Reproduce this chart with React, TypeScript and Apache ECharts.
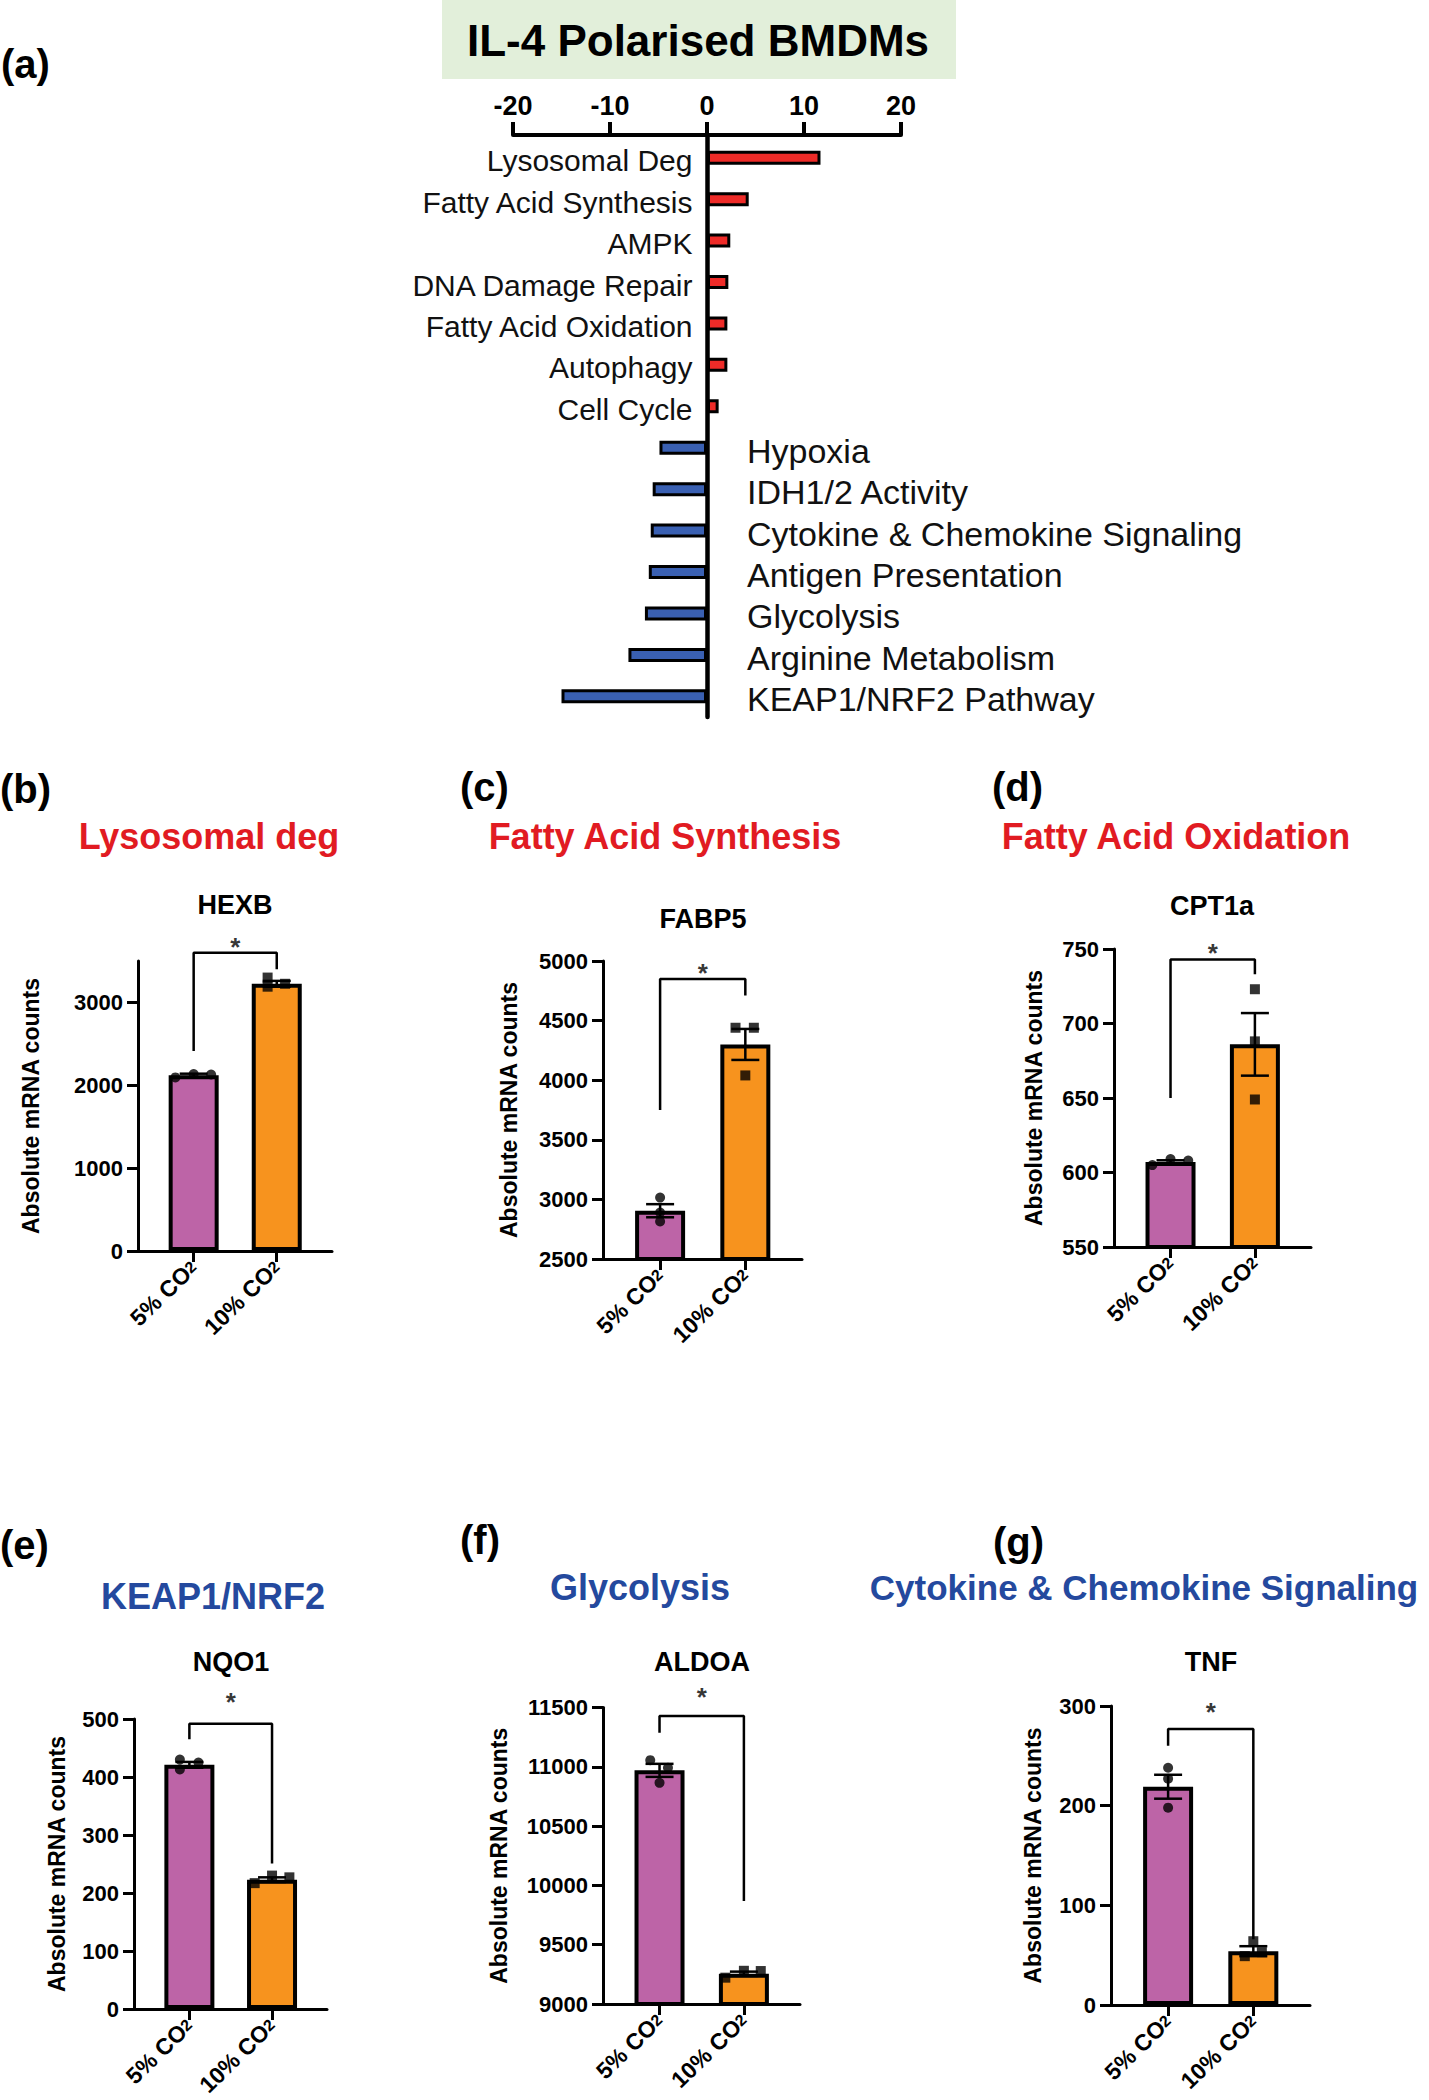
import React, { useEffect, useRef } from "react";
import * as echarts from "echarts";

const FONT = "'Liberation Sans', Arial, Helvetica, sans-serif";

// ---------- Panel (a): pathway scores ----------
const pathways = [
  "Lysosomal Deg",
  "Fatty Acid Synthesis",
  "AMPK",
  "DNA Damage Repair",
  "Fatty Acid Oxidation",
  "Autophagy",
  "Cell Cycle",
  "Hypoxia",
  "IDH1/2 Activity",
  "Cytokine & Chemokine Signaling",
  "Antigen Presentation",
  "Glycolysis",
  "Arginine Metabolism",
  "KEAP1/NRF2 Pathway",
];
const pathwayScores = [11.7, 4.3, 2.4, 2.2, 2.1, 2.1, 1.2, -4.9, -5.6, -5.8, -6.0, -6.4, -8.1, -15.0];
const scoreRange = [-20, 20];
const scoreStep = 10;

// ---------- Panels (b)-(g) ----------
const conditions = ["5% CO", "10% CO"]; // followed by subscript 2
const xTicks = [0, 1];

const panelLetters = ["(b)", "(c)", "(d)", "(e)", "(f)", "(g)"];
const pathwayTitles = [
  "Lysosomal deg",
  "Fatty Acid Synthesis",
  "Fatty Acid Oxidation",
  "KEAP1/NRF2",
  "Glycolysis",
  "Cytokine & Chemokine Signaling",
];
const genes = ["HEXB", "FABP5", "CPT1a", "NQO1", "ALDOA", "TNF"];

// HEXB
const hexbMean = [2120, 3225];
const hexbSem = [20, 35];
const hexb5 = [2095, 2135, 2130];
const hexb10 = [3300, 3190, 3225];
const hexbJit5 = [-0.22, 0, 0.21];
const hexbJit10 = [-0.11, -0.11, 0.1];
const hexbRange = [0, 3500];
const hexbTicks = [0, 1000, 2000, 3000];
const hexbBracket = [2415, 3600, 3400];

// FABP5
const fabp5Mean = [2905, 4300];
const fabp5Sem = [55, 130];
const fabp55 = [3015, 2890, 2815];
const fabp510 = [4440, 4440, 4040];
const fabp5Jit5 = [0, 0, 0];
const fabp5Jit10 = [-0.115, 0.1, 0];
const fabp5Range = [2500, 5000];
const fabp5Ticks = [2500, 3000, 3500, 4000, 4500, 5000];
const fabp5Bracket = [3750, 4850, 4710];

// CPT1a
const cpt1aMean = [607, 686];
const cpt1aSem = [1.2, 21];
const cpt1a5 = [605, 609, 608];
const cpt1a10 = [723, 688, 649];
const cpt1aJit5 = [-0.215, 0, 0.21];
const cpt1aJit10 = [0, 0, 0];
const cpt1aRange = [550, 750];
const cpt1aTicks = [550, 600, 650, 700, 750];
const cpt1aBracket = [650, 743, 733];

// NQO1
const nqo1Mean = [421, 223];
const nqo1Sem = [5, 4];
const nqo15 = [430, 413, 425];
const nqo110 = [217, 230, 227];
const nqo1Jit5 = [-0.115, -0.115, 0.11];
const nqo1Jit10 = [-0.21, 0, 0.21];
const nqo1Range = [0, 500];
const nqo1Ticks = [0, 100, 200, 300, 400, 500];
const nqo1Bracket = [465, 492, 251];

// ALDOA
const aldoaMean = [10970, 9255];
const aldoaSem = [55, 18];
const aldoa5 = [11056, 10992, 10865];
const aldoa10 = [9222, 9280, 9278];
const aldoaJit5 = [-0.11, 0.1, 0];
const aldoaJit10 = [-0.22, 0, 0.2];
const aldoaRange = [9000, 11500];
const aldoaTicks = [9000, 9500, 10000, 10500, 11000, 11500];
const aldoaBracket = [11288, 11428, 9868];

// TNF
const tnfMean = [219, 54];
const tnfSem = [12, 5];
const tnf5 = [238, 227, 198];
const tnf10 = [64, 49, 53];
const tnfJit5 = [0, 0, 0];
const tnfJit10 = [0, -0.1, 0.1];
const tnfRange = [0, 300];
const tnfTicks = [0, 100, 200, 300];
const tnfBracket = [260, 277, 66];

const panelData = [
  { mean: hexbMean, sem: hexbSem, p5: hexb5, p10: hexb10, j5: hexbJit5, j10: hexbJit10, range: hexbRange, ticks: hexbTicks, bracket: hexbBracket },
  { mean: fabp5Mean, sem: fabp5Sem, p5: fabp55, p10: fabp510, j5: fabp5Jit5, j10: fabp5Jit10, range: fabp5Range, ticks: fabp5Ticks, bracket: fabp5Bracket },
  { mean: cpt1aMean, sem: cpt1aSem, p5: cpt1a5, p10: cpt1a10, j5: cpt1aJit5, j10: cpt1aJit10, range: cpt1aRange, ticks: cpt1aTicks, bracket: cpt1aBracket },
  { mean: nqo1Mean, sem: nqo1Sem, p5: nqo15, p10: nqo110, j5: nqo1Jit5, j10: nqo1Jit10, range: nqo1Range, ticks: nqo1Ticks, bracket: nqo1Bracket },
  { mean: aldoaMean, sem: aldoaSem, p5: aldoa5, p10: aldoa10, j5: aldoaJit5, j10: aldoaJit10, range: aldoaRange, ticks: aldoaTicks, bracket: aldoaBracket },
  { mean: tnfMean, sem: tnfSem, p5: tnf5, p10: tnf10, j5: tnfJit5, j10: tnfJit10, range: tnfRange, ticks: tnfTicks, bracket: tnfBracket },
];

// ---------- layout / style ----------
const layouts = [
  { left: 138, right: 332, top: 961, bottom: 1251, nameGap: 96, starOffset: 8, letterX: 0, letterY: 789, titleX: 209, titleY: 836, titleSize: 36, geneX: 235, geneY: 905, color: "#E11B22" },
  { left: 603, right: 802, top: 961, bottom: 1259, nameGap: 83, starOffset: 7.5, letterX: 460, letterY: 787, titleX: 665, titleY: 836, titleSize: 36, geneX: 703, geneY: 919, color: "#E11B22" },
  { left: 1114, right: 1311, top: 949, bottom: 1247, nameGap: 69, starOffset: 7.5, letterX: 992, letterY: 787, titleX: 1176, titleY: 836, titleSize: 36, geneX: 1212, geneY: 906, color: "#E11B22" },
  { left: 134, right: 327, top: 1719, bottom: 2009, nameGap: 66, starOffset: -8.5, letterX: 0, letterY: 1545, titleX: 213, titleY: 1596, titleSize: 36, geneX: 231, geneY: 1662, color: "#24499E" },
  { left: 603, right: 800, top: 1707.5, bottom: 2004, nameGap: 93, starOffset: -5.5, letterX: 460, letterY: 1540, titleX: 640, titleY: 1587, titleSize: 36, geneX: 702, geneY: 1662, color: "#24499E" },
  { left: 1111, right: 1310, top: 1706, bottom: 2005, nameGap: 67, starOffset: -3.5, letterX: 993, letterY: 1542, titleX: 1144, titleY: 1587, titleSize: 35, geneX: 1211, geneY: 1662, color: "#24499E" },
];

const PURPLE = "#BD64A7";
const ORANGE = "#F7931E";
const RED = "#EE2B28";
const BLUE = "#3A60B2";

function buildOption() {
  const grid: any[] = [];
  const xAxis: any[] = [];
  const yAxis: any[] = [];
  const series: any[] = [];
  const graphic: any[] = [];

  // ----- panel (a) -----
  const catH = 41.43;
  grid.push({ left: 513, top: 137, width: 388, height: catH * pathways.length });
  xAxis.push({
    gridIndex: 0,
    type: "value",
    position: "top",
    offset: 2,
    min: scoreRange[0],
    max: scoreRange[1],
    interval: scoreStep,
    axisLine: { show: true, lineStyle: { color: "#000", width: 4 } },
    axisTick: { show: true, length: 13, lineStyle: { color: "#000", width: 4 } },
    axisLabel: { fontFamily: FONT, fontWeight: "bold", fontSize: 27, color: "#000", margin: 16 },
    splitLine: { show: false },
  });
  yAxis.push({
    gridIndex: 0,
    type: "category",
    inverse: true,
    data: pathways,
    axisLine: { show: true, onZero: true, lineStyle: { color: "#000", width: 4.5 } },
    axisTick: { show: false },
    axisLabel: { show: false },
    splitLine: { show: false },
  });
  series.push({
    type: "bar",
    xAxisIndex: 0,
    yAxisIndex: 0,
    barWidth: 14,
    z: 1,
    data: pathwayScores.map((v) => ({
      value: v,
      itemStyle: { color: v >= 0 ? RED : BLUE, borderColor: "#000", borderWidth: 3 },
      label: {
        show: true,
        position: v >= 0 ? "left" : "right",
        distance: v >= 0 ? 14.5 : 40,
        offset: [0, 3],
        fontFamily: FONT,
        fontSize: v >= 0 ? 30 : 34,
        color: "#111",
        formatter: (p: any) => p.name,
      },
    })),
  });

  graphic.push({
    type: "rect",
    shape: { x: 442, y: 0, width: 514, height: 79 },
    style: { fill: "#E2EFDA" },
    z: 0,
  });
  graphic.push({
    type: "text",
    x: 698,
    y: 40,
    style: {
      text: "IL-4 Polarised BMDMs",
      fontFamily: FONT,
      fontWeight: "bold",
      fontSize: 44,
      fill: "#000",
      align: "center",
      verticalAlign: "middle",
    },
    z: 2,
  });
  graphic.push({
    type: "text",
    x: 1,
    y: 64,
    style: { text: "(a)", fontFamily: FONT, fontWeight: "bold", fontSize: 40, fill: "#000", align: "left", verticalAlign: "middle" },
  });

  // ----- panels (b)-(g) -----
  panelData.forEach((pd, k) => {
    const lay = layouts[k];
    const gi = k + 1;
    grid.push({ left: lay.left, top: lay.top, width: lay.right - lay.left, height: lay.bottom - lay.top });
    xAxis.push({
      gridIndex: gi,
      type: "value",
      min: -0.67,
      max: 1.665,
      axisLine: { show: true, onZero: false, lineStyle: { color: "#000", width: 3 } },
      axisTick: { show: true, customValues: xTicks, length: 11, lineStyle: { color: "#000", width: 3 } },
      axisLabel: {
        show: true,
        customValues: xTicks,
        rotate: 44,
        margin: 13,
        formatter: (v: number) => `{a|${conditions[Math.round(v)]}}{s|2}`,
        rich: {
          a: { fontFamily: FONT, fontWeight: "bold", fontSize: 23, color: "#000" },
          s: { fontFamily: FONT, fontWeight: "bold", fontSize: 16, color: "#000" },
        },
      },
      splitLine: { show: false },
    });
    yAxis.push({
      gridIndex: gi,
      type: "value",
      min: pd.range[0],
      max: pd.range[1],
      name: "Absolute mRNA counts",
      nameLocation: "middle",
      nameGap: lay.nameGap,
      nameTextStyle: { fontFamily: FONT, fontWeight: "bold", fontSize: 23, color: "#000" },
      axisLine: { show: true, onZero: false, lineStyle: { color: "#000", width: 3 } },
      axisTick: { show: true, customValues: pd.ticks, length: 11, lineStyle: { color: "#000", width: 3 } },
      axisLabel: {
        show: true,
        customValues: pd.ticks,
        margin: 15,
        fontFamily: FONT,
        fontWeight: "bold",
        fontSize: 22,
        color: "#000",
        formatter: (v: number) => String(v),
      },
      splitLine: { show: false },
    });

    // bars
    series.push({
      type: "bar",
      xAxisIndex: gi,
      yAxisIndex: gi,
      barWidth: 50,
      z: 2,
      data: pd.mean.map((m, i) => ({
        value: [i, m],
        itemStyle: { color: i === 0 ? PURPLE : ORANGE, borderColor: "#000", borderWidth: 4 },
      })),
    });
    // error bars (mean ± SEM)
    series.push({
      type: "custom",
      xAxisIndex: gi,
      yAxisIndex: gi,
      z: 3,
      encode: { x: 0, y: [1, 2] },
      data: pd.mean.map((m, i) => [i, m - pd.sem[i], m + pd.sem[i]]),
      renderItem: (params: any, api: any) => {
        const x = api.value(0);
        const lo = api.coord([x, api.value(1)]);
        const hi = api.coord([x, api.value(2)]);
        const hw = 14;
        const st = { stroke: "#000", lineWidth: 2.5 };
        return {
          type: "group",
          children: [
            { type: "line", shape: { x1: lo[0], y1: lo[1], x2: hi[0], y2: hi[1] }, style: st },
            { type: "line", shape: { x1: hi[0] - hw, y1: hi[1], x2: hi[0] + hw, y2: hi[1] }, style: st },
            { type: "line", shape: { x1: lo[0] - hw, y1: lo[1], x2: lo[0] + hw, y2: lo[1] }, style: st },
          ],
        };
      },
    });
    // individual points
    series.push({
      type: "scatter",
      xAxisIndex: gi,
      yAxisIndex: gi,
      z: 4,
      symbol: "circle",
      symbolSize: 10,
      itemStyle: { color: "#000" },
      data: pd.p5.map((v, i) => [pd.j5[i], v]),
    });
    series.push({
      type: "scatter",
      xAxisIndex: gi,
      yAxisIndex: gi,
      z: 4,
      symbol: "rect",
      symbolSize: 10,
      itemStyle: { color: "#000" },
      data: pd.p10.map((v, i) => [1 + pd.j10[i], v]),
    });
    // significance bracket
    series.push({
      type: "line",
      xAxisIndex: gi,
      yAxisIndex: gi,
      z: 4,
      clip: false,
      symbol: "none",
      lineStyle: { color: "#000", width: 2.5 },
      data: [
        [0, pd.bracket[0]],
        [0, pd.bracket[1]],
        [1, pd.bracket[1]],
        [1, pd.bracket[2]],
      ],
    });
    series.push({
      type: "scatter",
      xAxisIndex: gi,
      yAxisIndex: gi,
      z: 4,
      clip: false,
      symbolSize: 1,
      itemStyle: { color: "rgba(0,0,0,0)" },
      label: {
        show: true,
        position: "top",
        distance: 0,
        offset: [0, lay.starOffset],
        formatter: "*",
        fontFamily: FONT,
        fontWeight: "bold",
        fontSize: 26,
        color: "#000",
      },
      data: [[0.5, pd.bracket[1]]],
    });

    // texts
    graphic.push({
      type: "text",
      x: lay.letterX,
      y: lay.letterY,
      style: { text: panelLetters[k], fontFamily: FONT, fontWeight: "bold", fontSize: 40, fill: "#000", align: "left", verticalAlign: "middle" },
    });
    graphic.push({
      type: "text",
      x: lay.titleX,
      y: lay.titleY,
      style: { text: pathwayTitles[k], fontFamily: FONT, fontWeight: "bold", fontSize: lay.titleSize, fill: lay.color, align: "center", verticalAlign: "middle" },
    });
    graphic.push({
      type: "text",
      x: lay.geneX,
      y: lay.geneY,
      style: { text: genes[k], fontFamily: FONT, fontWeight: "bold", fontSize: 27, fill: "#000", align: "center", verticalAlign: "middle" },
    });
  });

  return {
    animation: false,
    backgroundColor: "#fff",
    grid,
    xAxis,
    yAxis,
    series,
    graphic,
  };
}

export default function App() {
  const ref = useRef<HTMLDivElement>(null);
  useEffect(() => {
    if (!ref.current) return;
    const chart = echarts.init(ref.current, null, { renderer: "svg" });
    chart.setOption(buildOption() as any);
    return () => chart.dispose();
  }, []);
  return (
    <div
      ref={ref}
      style={{ position: "absolute", left: 0, top: 0, width: 1429, height: 2100, background: "#fff" }}
    />
  );
}
